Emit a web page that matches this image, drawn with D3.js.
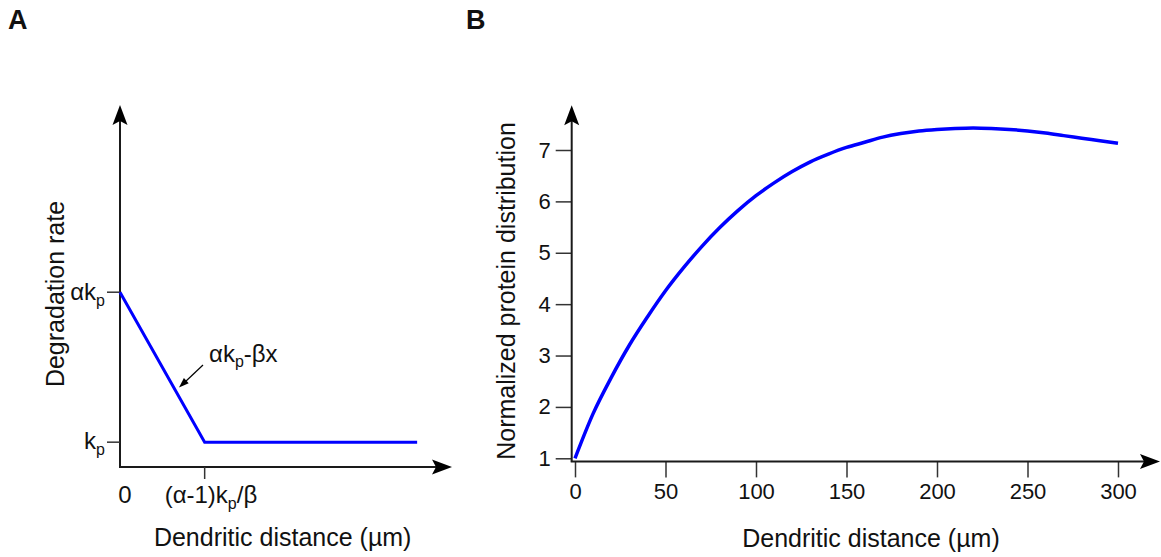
<!DOCTYPE html>
<html>
<head>
<meta charset="utf-8">
<script src="https://cdn.jsdelivr.net/npm/d3@7"></script>
<style>
  body { margin: 0; background: #fff; }
  svg text { font-family: "Liberation Sans", Arial, sans-serif; fill: #111; }
</style>
</head>
<body>
<div id="chart"></div>
<script>
/* global d3 */

// panel A: schematic degradation rate (conceptual units)
var degDistance = [0, 1.02, 3.58];
var degRate = [3.38, 0.48, 0.48];

// panel B: normalized protein distribution vs dendritic distance (um)
var distance = [0, 10, 20, 30, 40, 50, 60, 70, 80, 90, 100, 110, 120, 130, 140, 150,
    160, 170, 180, 190, 200, 210, 220, 230, 240, 250, 260, 270, 280, 290, 300];
var protein = [1.0, 1.87, 2.57, 3.20, 3.75, 4.26, 4.71, 5.12, 5.49, 5.82, 6.11, 6.36, 6.58, 6.77, 6.92, 7.05,
    7.15, 7.25, 7.32, 7.37, 7.40, 7.42, 7.43, 7.42, 7.40, 7.37, 7.33, 7.28, 7.23, 7.18, 7.13];
var xTicksB = [0, 50, 100, 150, 200, 250, 300];
var yTicksB = [1, 2, 3, 4, 5, 6, 7];

var width = 1161, height = 557;
var blue = "#0000ff";
var axisColor = "#1a1a1a";

var svg = d3.select("#chart")
        .append("svg")
        .attr("width", width)
        .attr("height", height);

// arrow head drawn at tip (x, y) pointing in direction angle (deg)
function arrowHead(g, x, y, angle) {
    g.append("path")
            .attr("d", "M0,0 L-20,-7.5 L-16,0 L-20,7.5 Z")
            .attr("transform", "translate(" + x + "," + y + ") rotate(" + angle + ")")
            .style("fill", "#000");
}

// ---------- panel A ----------
var xA = d3.scaleLinear().domain([0, 4]).range([120, 452]);
var yA = d3.scaleLinear().domain([0, 7]).range([467, 105]);

var gA = svg.append("g").attr("class", "panel-a");

gA.append("text")
        .attr("x", 8)
        .attr("y", 29)
        .style("font-size", "27px")
        .style("font-weight", "bold")
        .text("A");

gA.append("line")
        .attr("x1", xA(0)).attr("y1", yA(0))
        .attr("x2", xA(0)).attr("y2", yA(7) + 12)
        .style("stroke", axisColor).style("stroke-width", "2px");
gA.append("line")
        .attr("x1", xA(0) - 1).attr("y1", yA(0))
        .attr("x2", xA(4) - 12).attr("y2", yA(0))
        .style("stroke", axisColor).style("stroke-width", "2px");
arrowHead(gA, xA(0), yA(7), -90);
arrowHead(gA, xA(4), yA(0), 0);

// y ticks: kp and alpha*kp
[degRate[1], degRate[0]].forEach(function (v) {
    gA.append("line")
            .attr("x1", xA(0) - 13).attr("x2", xA(0))
            .attr("y1", yA(v)).attr("y2", yA(v))
            .style("stroke", "#333").style("stroke-width", "1.5px");
});
// x tick at the kink
gA.append("line")
        .attr("x1", xA(degDistance[1])).attr("x2", xA(degDistance[1]))
        .attr("y1", yA(0)).attr("y2", yA(0) + 12)
        .style("stroke", "#333").style("stroke-width", "1.5px");

var akp = gA.append("text")
        .attr("x", xA(0) - 15)
        .attr("y", yA(degRate[0]) + 8)
        .attr("text-anchor", "end")
        .style("font-size", "24px");
akp.append("tspan").text("αk");
akp.append("tspan").attr("dy", 6).style("font-size", "16px").text("p");

var kp = gA.append("text")
        .attr("x", xA(0) - 15)
        .attr("y", yA(degRate[1]) + 7)
        .attr("text-anchor", "end")
        .style("font-size", "24px");
kp.append("tspan").text("k");
kp.append("tspan").attr("dy", 6).style("font-size", "16px").text("p");

gA.append("text")
        .attr("x", xA(0) + 5)
        .attr("y", 503)
        .attr("text-anchor", "middle")
        .style("font-size", "24px")
        .text("0");

var kink = gA.append("text")
        .attr("x", xA(degDistance[1]) - 40)
        .attr("y", 503)
        .style("font-size", "24px");
kink.append("tspan").text("(α-1)k");
kink.append("tspan").attr("dy", 6).style("font-size", "16px").text("p");
kink.append("tspan").attr("dy", -6).text("/β");

gA.append("text")
        .attr("transform", "translate(64," + 294 + ") rotate(-90)")
        .attr("text-anchor", "middle")
        .style("font-size", "25px")
        .text("Degradation rate");

gA.append("text")
        .attr("x", xA(1.96))
        .attr("y", 546)
        .attr("text-anchor", "middle")
        .style("font-size", "25px")
        .text("Dendritic distance (µm)");

var lineA = d3.line()
        .x(function (d) { return xA(d[0]); })
        .y(function (d) { return yA(d[1]); });

gA.append("path")
        .datum(d3.zip(degDistance, degRate))
        .attr("d", lineA)
        .style("fill", "none")
        .style("stroke", blue)
        .style("stroke-width", "3px");

// annotation for the sloped segment
var eq = gA.append("text")
        .attr("x", 209)
        .attr("y", 362)
        .style("font-size", "24px");
eq.append("tspan").text("αk");
eq.append("tspan").attr("dy", 5).style("font-size", "16px").text("p");
eq.append("tspan").attr("dy", -5).text("-βx");

gA.append("line")
        .attr("x1", 203).attr("y1", 365)
        .attr("x2", 185).attr("y2", 382)
        .style("stroke", "#000").style("stroke-width", "1.2px");
gA.append("path")
        .attr("d", "M0,0 L-10,-3.5 L-10,3.5 Z")
        .attr("transform", "translate(179,387.5) rotate(" + (Math.atan2(22.5, -24) * 180 / Math.PI) + ")")
        .style("fill", "#000");

// ---------- panel B ----------
var xB = d3.scaleLinear().domain([0, 300]).range([575, 1118]);
var yB = d3.scaleLinear().domain([1, 7]).range([458.3, 150]);
var xEndB = 323.2, yBaseB = 0.94, yTopB = 7.87;

var gB = svg.append("g").attr("class", "panel-b");

gB.append("text")
        .attr("x", 466)
        .attr("y", 29)
        .style("font-size", "27px")
        .style("font-weight", "bold")
        .text("B");

gB.append("g")
        .attr("class", "axis-y")
        .attr("transform", "translate(" + 571.7 + ",0)")
        .call(d3.axisLeft(yB)
                .tickValues(yTicksB)
                .tickSize(16)
                .tickPadding(5)
                .tickFormat(d3.format("d")));

gB.append("g")
        .attr("class", "axis-x")
        .attr("transform", "translate(0," + yB(yBaseB) + ")")
        .call(d3.axisBottom(xB)
                .tickValues(xTicksB)
                .tickSize(16)
                .tickPadding(6)
                .tickFormat(d3.format("d")));

gB.selectAll(".domain").remove();
gB.selectAll(".tick line").style("stroke", "#333").style("stroke-width", "1.5px");
gB.selectAll(".tick text").style("font-size", "22px").style("font-family", "'Liberation Sans', Arial, sans-serif").style("fill", "#111");

gB.append("line")
        .attr("x1", 571.7).attr("y1", yB(yBaseB))
        .attr("x2", 571.7).attr("y2", yB(yTopB) + 12)
        .style("stroke", axisColor).style("stroke-width", "2px");
gB.append("line")
        .attr("x1", 570.7).attr("y1", yB(yBaseB))
        .attr("x2", xB(xEndB) - 12).attr("y2", yB(yBaseB))
        .style("stroke", axisColor).style("stroke-width", "2px");
arrowHead(gB, 571.7, yB(yTopB), -90);
arrowHead(gB, xB(xEndB), yB(yBaseB), 0);

gB.append("text")
        .attr("transform", "translate(515," + 291 + ") rotate(-90)")
        .attr("text-anchor", "middle")
        .style("font-size", "25px")
        .text("Normalized protein distribution");

gB.append("text")
        .attr("x", 871)
        .attr("y", 547)
        .attr("text-anchor", "middle")
        .style("font-size", "25px")
        .text("Dendritic distance (µm)");

var lineB = d3.line()
        .x(function (d) { return xB(d[0]); })
        .y(function (d) { return yB(d[1]); })
        .curve(d3.curveMonotoneX);

gB.append("path")
        .datum(d3.zip(distance, protein))
        .attr("d", lineB)
        .style("fill", "none")
        .style("stroke", blue)
        .style("stroke-width", "3.5px");
</script>
</body>
</html>
